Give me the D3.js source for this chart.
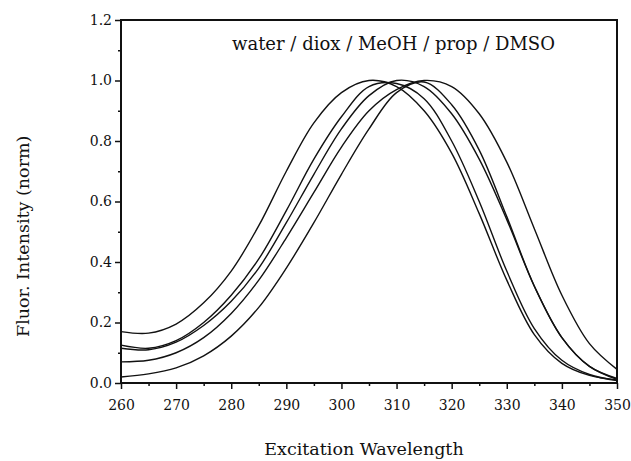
<!DOCTYPE html>
<html>
<head>
<meta charset="utf-8">
<script src="https://cdn.jsdelivr.net/npm/d3@7"></script>
<style>
  body { margin: 0; background: #fff; }
  text { font-family: "DejaVu Serif", serif; fill: #111; }
</style>
</head>
<body>
<div id="chart"></div>
<script>
// chart values
const wavelengths = [260, 265, 270, 275, 280, 285, 290, 295, 300, 305, 310, 315, 320, 325, 330, 335, 340, 345, 350];

const seriesA = [0.17, 0.165, 0.195, 0.265, 0.37, 0.52, 0.70, 0.86, 0.96, 1.00, 0.98, 0.90, 0.76, 0.56, 0.34, 0.16, 0.065, 0.025, 0.01];
const seriesB = [0.125, 0.115, 0.14, 0.20, 0.29, 0.41, 0.57, 0.74, 0.88, 0.98, 0.99, 0.94, 0.80, 0.60, 0.37, 0.18, 0.075, 0.028, 0.008];
const seriesC = [0.115, 0.11, 0.135, 0.19, 0.27, 0.38, 0.53, 0.69, 0.84, 0.95, 1.00, 0.98, 0.89, 0.74, 0.54, 0.32, 0.15, 0.055, 0.015];
const seriesD = [0.07, 0.075, 0.10, 0.15, 0.23, 0.34, 0.48, 0.63, 0.78, 0.90, 0.97, 1.00, 0.98, 0.89, 0.73, 0.51, 0.29, 0.13, 0.045];
const seriesE = [0.02, 0.03, 0.05, 0.09, 0.155, 0.25, 0.38, 0.53, 0.69, 0.84, 0.96, 0.995, 0.92, 0.77, 0.55, 0.32, 0.15, 0.055, 0.012];

const allSeries = [seriesA, seriesB, seriesC, seriesD, seriesE];

const yMajorTicks = [0, 0.2, 0.4, 0.6, 0.8, 1.0, 1.2];
const yMinorTicks = [0.1, 0.3, 0.5, 0.7, 0.9, 1.1];
const xMajorTicks = [260, 270, 280, 290, 300, 310, 320, 330, 340, 350];
const xMinorTicks = [265, 275, 285, 295, 305, 315, 325, 335, 345];

const legendText = "water / diox / MeOH / prop / DMSO";
const xTitle = "Excitation Wavelength";
const yTitle = "Fluor. Intensity (norm)";

// layout
const W = 631, H = 461;
const margin = {top: 20, right: 14, bottom: 78, left: 121};
const width = W - margin.left - margin.right;
const height = H - margin.top - margin.bottom;

const svg = d3.select("#chart").append("svg")
    .attr("width", W)
    .attr("height", H);

const g = svg.append("g")
    .attr("transform", `translate(${margin.left},${margin.top})`);

const x = d3.scaleLinear().domain([260, 350]).range([0, width]);
const y = d3.scaleLinear().domain([0, 1.2]).range([height, 0]);

// y axis, major + minor ticks
g.append("g")
    .call(d3.axisLeft(y).tickValues(yMajorTicks).tickFormat(d3.format(".1f")).tickSize(6).tickPadding(3));
g.append("g")
    .call(d3.axisLeft(y).tickValues(yMinorTicks).tickFormat("").tickSize(3));

// x axis
g.append("g")
    .attr("transform", `translate(0,${height})`)
    .call(d3.axisBottom(x).tickValues(xMajorTicks).tickFormat(d3.format("d")).tickSize(6).tickPadding(11));
g.append("g")
    .attr("transform", `translate(0,${height})`)
    .call(d3.axisBottom(x).tickValues(xMinorTicks).tickFormat("").tickSize(3));

g.selectAll(".domain").remove();
g.selectAll(".tick line").attr("stroke", "#111").attr("stroke-width", 1.5);
g.selectAll(".tick text")
    .style("font-size", "14px")
    .style("font-family", "DejaVu Serif, serif");

// frame
g.append("rect")
    .attr("x", 0).attr("y", 0)
    .attr("width", width).attr("height", height)
    .attr("fill", "none")
    .attr("stroke", "#111")
    .attr("stroke-width", 2);

// curves
const line = d3.line()
    .x((d, i) => x(wavelengths[i]))
    .y(d => y(d))
    .curve(d3.curveCatmullRom.alpha(0.5));

g.selectAll(".curve")
    .data(allSeries)
    .enter().append("path")
    .attr("class", "curve")
    .attr("d", line)
    .attr("fill", "none")
    .attr("stroke", "#111")
    .attr("stroke-width", 1.4);

// legend label inside plot
g.append("text")
    .attr("x", 111)
    .attr("y", 30)
    .style("font-size", "18px")
    .text(legendText);

// axis titles
svg.append("text")
    .attr("x", 364)
    .attr("y", 455)
    .attr("text-anchor", "middle")
    .style("font-size", "17.5px")
    .text(xTitle);

svg.append("text")
    .attr("transform", `translate(29, 337) rotate(-90)`)
    .attr("text-anchor", "start")
    .style("font-size", "17.5px")
    .text(yTitle);
</script>
</body>
</html>
